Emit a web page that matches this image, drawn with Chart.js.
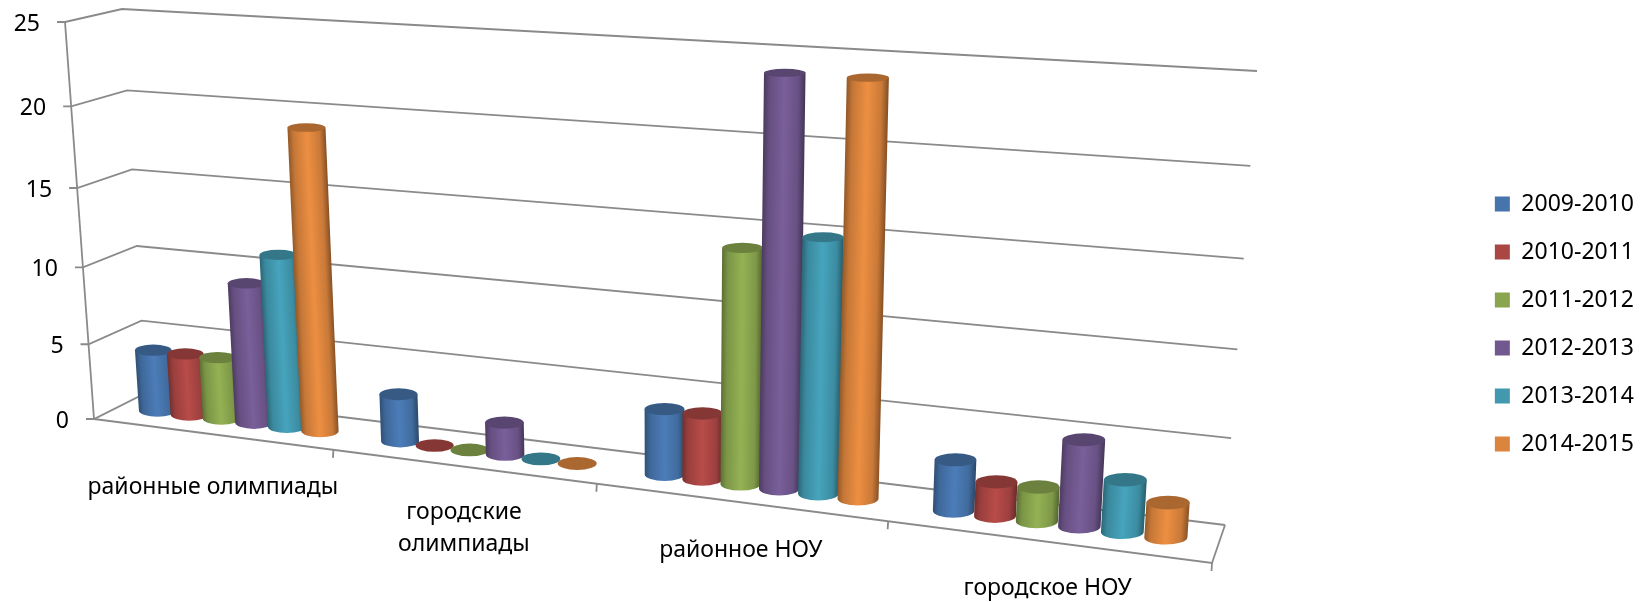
<!DOCTYPE html>
<html lang="ru">
<head>
<meta charset="utf-8">
<title>Олимпиады и НОУ</title>
<script src="https://cdn.jsdelivr.net/npm/chart.js@4.4.0/dist/chart.umd.min.js"></script>
<style>
    html, body { margin: 0; padding: 0; background: #fff; }
    #chart { display: block; }
</style>
</head>
<body>
<canvas id="chart" width="1648" height="602"></canvas>
<script>
const categories = ['районные олимпиады', ['городские', 'олимпиады'], 'районное НОУ', 'городское НОУ'];
const years = ['2009-2010', '2010-2011', '2011-2012', '2012-2013', '2013-2014', '2014-2015'];
const values2009 = [4, 3, 4, 3];
const values2010 = [4, 0, 4, 2];
const values2011 = [4, 0, 14, 2];
const values2012 = [9, 2, 24, 5];
const values2013 = [11, 0, 15, 3];
const values2014 = [19, 0, 24, 2];
const colors = ['#4674AB', '#AA4644', '#89A54E', '#71588F', '#4198AF', '#DB843D'];
const yTicks = [0, 5, 10, 15, 20, 25];

const FONT = '"Noto Sans", sans-serif';
const FONT_SIZE = 23;
const GRID = '#8a8a8a';
// сдвиг подписей категорий вниз от оси
const LABEL_DROP = [53, 46, 48, 47];

// четырехугольник -> проекция (u, v) в пиксели
function makeQuad(p00, p10, p11, p01) {
    const sx = p00[0] - p10[0] + p11[0] - p01[0];
    const sy = p00[1] - p10[1] + p11[1] - p01[1];
    const dx1 = p10[0] - p11[0], dx2 = p01[0] - p11[0];
    const dy1 = p10[1] - p11[1], dy2 = p01[1] - p11[1];
    const den = dx1 * dy2 - dx2 * dy1;
    const g = (sx * dy2 - dx2 * sy) / den;
    const h = (dx1 * sy - sx * dy1) / den;
    const a = p10[0] - p00[0] + g * p10[0], b = p01[0] - p00[0] + h * p01[0];
    const d = p10[1] - p00[1] + g * p10[1], e = p01[1] - p00[1] + h * p01[1];
    return (u, v) => {
        const w = g * u + h * v + 1;
        return [(a * u + b * v + p00[0]) / w, (d * u + e * v + p00[1]) / w];
    };
}

const leftWall = makeQuad([94, 419], [146, 393], [122, 9], [65, 22]);
const backWall = makeQuad([146, 393], [1225, 525], [1257, 71], [122, 9]);
const floor = makeQuad([94, 419], [1212, 563], [1225, 525], [146, 393]);
const barPlane = makeQuad([120, 406], [1218, 544], [1250, 81], [93, 15]);

function shade(hex, k) {
    const n = parseInt(hex.slice(1), 16);
    const c = [n >> 16, (n >> 8) & 255, n & 255].map(v => Math.min(255, Math.round(v * k)));
    return `rgb(${c[0]},${c[1]},${c[2]})`;
}

function line(ctx, points) {
    ctx.beginPath();
    points.forEach((p, i) => i ? ctx.lineTo(p[0], p[1]) : ctx.moveTo(p[0], p[1]));
    ctx.stroke();
}

function drawWalls(chart) {
    const ctx = chart.ctx;
    const { x, y } = chart.scales;
    const area = chart.chartArea;
    ctx.save();
    ctx.strokeStyle = GRID;
    ctx.lineWidth = 1.8;
    ctx.fillStyle = '#000';
    ctx.font = `${FONT_SIZE}px ${FONT}`;

    // стены и подписи значений
    y.ticks.forEach(t => {
        const v = (area.bottom - y.getPixelForValue(t.value)) / area.height;
        const front = leftWall(0, v);
        line(ctx, [[front[0] - 8, front[1]], front, leftWall(1, v), backWall(1, v)]);
        ctx.textAlign = 'right';
        ctx.textBaseline = 'middle';
        ctx.fillText(t.label, front[0] - 25, front[1] + 2);
    });
    line(ctx, [leftWall(0, 0), leftWall(0, 1)]);

    // пол
    line(ctx, [floor(0, 0), floor(1, 0), floor(1, 1)]);
    ctx.textAlign = 'center';
    categories.forEach((name, i) => {
        const uEnd = (x.getPixelForValue(i + 0.5) - area.left) / area.width;
        const uMid = (x.getPixelForValue(i) - area.left) / area.width;
        const tick = floor(uEnd, 0);
        line(ctx, [tick, [tick[0] - 0.5, tick[1] + 8]]);
        const mid = floor(uMid, 0);
        [].concat(name).forEach((text, row) => {
            ctx.fillText(text, mid[0] + 2, mid[1] + LABEL_DROP[i] + row * 32);
        });
    });
    ctx.restore();
}

function drawCylinder(chart, bar, color) {
    const ctx = chart.ctx;
    const area = chart.chartArea;
    const u = (bar.x - area.left) / area.width;
    const du = bar.width / 2 / area.width;
    const v = (area.bottom - bar.y) / area.height;
    // диаметр растет медленнее шага столбцов
    const radiusAt = vv => (0.55 * (barPlane(u + du, vv)[0] - barPlane(u - du, vv)[0]) + 19) / 2;
    const base = barPlane(u, 0);
    const top = barPlane(u, v);
    const rb = radiusAt(0);
    const rt = radiusAt(v);
    const ryb = rb * 0.33;
    const ryt = rt * (0.33 - 0.14 * v);

    if (v > 0) {
        // цилиндр наклонен, градиент идет вместе с ним
        const lean = (top[0] - base[0]) / (top[1] - base[1]);
        const dy = top[1] - base[1];
        ctx.save();
        ctx.translate(base[0], base[1]);
        ctx.transform(1, 0, lean, 1, 0, 0);
        const grad = ctx.createLinearGradient(-rb, 0, rb, 0);
        grad.addColorStop(0, shade(color, 0.68));
        grad.addColorStop(0.14, shade(color, 0.9));
        grad.addColorStop(0.5, shade(color, 1.08));
        grad.addColorStop(0.84, shade(color, 0.92));
        grad.addColorStop(1, shade(color, 0.62));
        ctx.fillStyle = grad;
        ctx.beginPath();
        ctx.ellipse(0, 0, rb, ryb, 0, 0, Math.PI);
        ctx.lineTo(-rt, dy);
        ctx.lineTo(rt, dy);
        ctx.closePath();
        ctx.fill();
        ctx.restore();
    }
    ctx.fillStyle = shade(color, 0.78);
    ctx.beginPath();
    ctx.ellipse(top[0], top[1], rt, ryt, 0, 0, Math.PI * 2);
    ctx.fill();
}

const chart3d = {
    id: 'chart3d',
    beforeDatasetsDraw(chart) { drawWalls(chart); },
    // столбцы рисуем сами, слева направо
    beforeDatasetDraw() { return false; },
    afterDatasetsDraw(chart) {
        for (let g = 0; g < categories.length; g++) {
            chart.data.datasets.forEach((ds, i) => {
                drawCylinder(chart, chart.getDatasetMeta(i).data[g], ds.backgroundColor);
            });
        }
    }
};

const series = [values2009, values2010, values2011, values2012, values2013, values2014];

new Chart(document.getElementById('chart'), {
    type: 'bar',
    data: {
        labels: categories,
        datasets: series.map((data, i) => ({ label: years[i], data, backgroundColor: colors[i] }))
    },
    options: {
        responsive: false,
        animation: false,
        categoryPercentage: 0.815,
        barPercentage: 1,
        layout: { padding: { top: 46, right: 4 } },
        scales: {
            x: { display: true, grid: { display: false }, border: { display: false }, ticks: { display: false } },
            y: {
                min: 0,
                max: 25,
                afterBuildTicks: scale => { scale.ticks = yTicks.map(value => ({ value })); },
                grid: { display: false },
                border: { display: false },
                ticks: { display: false }
            }
        },
        plugins: {
            tooltip: { enabled: false },
            legend: {
                position: 'right',
                labels: {
                    boxWidth: 15,
                    boxHeight: 15,
                    padding: 25,
                    color: '#000',
                    font: { family: FONT, size: FONT_SIZE }
                }
            }
        }
    },
    plugins: [chart3d]
});
</script>
</body>
</html>
